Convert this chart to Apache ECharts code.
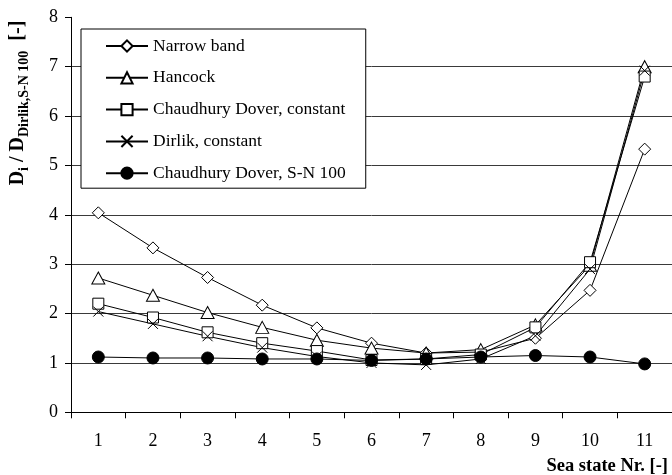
<!DOCTYPE html>
<html>
<head>
<meta charset="utf-8">
<script src="https://cdn.jsdelivr.net/npm/echarts@6/dist/echarts.min.js"></script>
<style>html,body{margin:0;padding:0;background:#fff}#c{width:672px;height:475px}</style>
</head>
<body>
<div id="c"></div>
<script>
var categories = ['1','2','3','4','5','6','7','8','9','10','11'];
var narrowBand = [4.04, 3.33, 2.73, 2.17, 1.71, 1.40, 1.20, 1.22, 1.50, 2.47, 5.33];
var hancock = [2.72, 2.37, 2.02, 1.72, 1.46, 1.30, 1.20, 1.27, 1.77, 2.98, 7.00];
var chaudhuryConst = [2.20, 1.92, 1.62, 1.40, 1.24, 1.06, 1.08, 1.17, 1.72, 3.04, 6.80];
var dirlikConst = [2.04, 1.79, 1.54, 1.31, 1.13, 1.00, 0.96, 1.08, 1.55, 2.90, 6.92];
var chaudhurySN = [1.12, 1.10, 1.10, 1.08, 1.08, 1.05, 1.08, 1.12, 1.15, 1.12, 0.98];
var seriesNames = ['Narrow band', 'Hancock', 'Chaudhury Dover, constant', 'Dirlik, constant', 'Chaudhury Dover, S-N 100'];

var FONT = 'Liberation Serif';
var chart = echarts.init(document.getElementById('c'), null, {renderer: 'canvas'});

function mk(name, data, symbol, size, fill) {
  return {
    name: name, type: 'line', data: data,
    symbol: symbol, symbolSize: size,
    showSymbol: true,
    lineStyle: {color: '#000', width: 1},
    itemStyle: {color: fill, borderColor: '#000', borderWidth: 1},
    emphasis: {disabled: true},
    z: 3
  };
}

chart.setOption({
  animation: false,
  backgroundColor: '#fff',
  grid: {left: 71, top: 17.3, right: -2, bottom: 62.7, containLabel: false},
  xAxis: {
    type: 'category', data: categories, boundaryGap: true,
    axisLine: {lineStyle: {color: '#000', width: 1}},
    axisTick: {show: true, length: 6, lineStyle: {color: '#000'}},
    axisLabel: {fontFamily: FONT, fontSize: 18, color: '#000', margin: 20},
    splitLine: {show: false}
  },
  yAxis: {
    type: 'value', min: 0, max: 8, interval: 1,
    axisLine: {show: true, lineStyle: {color: '#000', width: 1}},
    axisTick: {show: true, length: 6, lineStyle: {color: '#000'}},
    axisLabel: {fontFamily: FONT, fontSize: 18, color: '#000', margin: 13},
    splitLine: {show: true, showMaxLine: false, lineStyle: {color: '#3a3a3a', width: 1}}
  },
  legend: {
    show: true, orient: 'vertical', left: 81, top: 29,
    backgroundColor: '#fff', borderColor: '#000', borderWidth: 1, borderRadius: 0,
    padding: [8, 20, 6, 24],
    itemWidth: 42, itemHeight: 14, itemGap: 13.8,
    textStyle: {fontFamily: FONT, fontSize: 17.5, color: '#000'},
    data: seriesNames,
    selectedMode: false
  },
  series: [
    mk(seriesNames[0], narrowBand, 'diamond', 12, '#fff'),
    mk(seriesNames[1], hancock, 'triangle', [13, 12], '#fff'),
    mk(seriesNames[2], chaudhuryConst, 'rect', 11, '#fff'),
    mk(seriesNames[3], dirlikConst, 'path://M0,0L10,10M10,0L0,10', 10, 'rgba(0,0,0,0)'),
    mk(seriesNames[4], chaudhurySN, 'circle', 12, '#000')
  ],
  graphic: [
    {
      type: 'text', x: 17, y: 103, rotation: Math.PI / 2,
      style: {
        text: '{b|D}{s|i}{b| / D}{s|Dirlik,S-N 100}{b|  [-]}',
        align: 'center', verticalAlign: 'middle',
        fill: '#000',
        rich: {
          b: {fontFamily: FONT, fontSize: 20, fontWeight: 'bold', fill: '#000', verticalAlign: 'bottom', lineHeight: 22},
          s: {fontFamily: FONT, fontSize: 14, fontWeight: 'bold', fill: '#000', verticalAlign: 'bottom', lineHeight: 22, padding: [0, 0, -3, 0]}
        }
      }
    },
    {
      type: 'text', x: 668, y: 466,
      style: {
        text: 'Sea state Nr. [-]', align: 'right', verticalAlign: 'middle',
        fontFamily: FONT, fontSize: 18.5, fontWeight: 'bold', fill: '#000'
      }
    }
  ]
});
</script>
</body>
</html>
